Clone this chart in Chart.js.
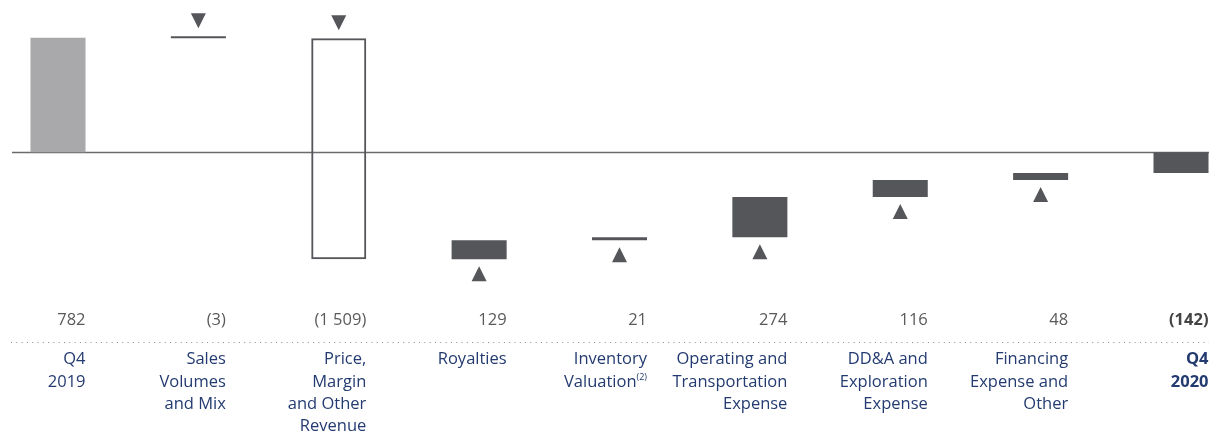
<!DOCTYPE html>
<html>
<head>
<meta charset="utf-8">
<script src="https://cdn.jsdelivr.net/npm/chart.js@4.4.1/dist/chart.umd.min.js"></script>
<style>
  html, body { margin: 0; padding: 0; background: #fff; }
  #wrap { width: 1209px; height: 434px; position: relative; }
</style>
</head>
<body>
<div id="wrap"><canvas id="bridge-chart"></canvas></div>
<script>
// Bridge data (Q4 2019 -> Q4 2020)
var categories = [
  ['Q4', '2019'],
  ['Sales', 'Volumes', 'and Mix'],
  ['Price,', 'Margin', 'and Other', 'Revenue'],
  ['Royalties'],
  ['Inventory', 'Valuation^(2)'],
  ['Operating and', 'Transportation', 'Expense'],
  ['DD&A and', 'Exploration', 'Expense'],
  ['Financing', 'Expense and', 'Other'],
  ['Q4', '2020']
];
var changes = [782, -3, -1509, 129, 21, 274, 116, 48, -142];
var isTotal = [true, false, false, false, false, false, false, false, true];
var valueLabels = ['782', '(3)', '(1 509)', '129', '21', '274', '116', '48', '(142)'];

// floating bars from running total
var bars = [];
var running = 0;
for (var i = 0; i < changes.length; i++) {
  if (isTotal[i]) {
    bars.push([0, changes[i]]);
    running = changes[i];
  } else {
    bars.push([running, running + changes[i]]);
    running += changes[i];
  }
}

var DARK = '#55565a';
var FONT = '"Open Sans", "Noto Sans", sans-serif';

function barFill(ctx) {
  var i = ctx.dataIndex;
  if (i === 0) return '#a9a8aa';
  if (i === 2) return 'rgba(0,0,0,0)';
  return DARK;
}

// baseline behind the bars
var baseline = {
  id: 'baseline',
  beforeDatasetsDraw: function(chart) {
    var c = chart.ctx;
    var y = Math.round(chart.scales.y.getPixelForValue(0)) + 0.5;
    c.save();
    c.strokeStyle = '#6b6b6d';
    c.lineWidth = 1.3;
    c.beginPath();
    c.moveTo(12, y);
    c.lineTo(chart.width, y);
    c.stroke();
    c.restore();
  }
};

// arrows + value row + category labels
var annotations = {
  id: 'annotations',
  afterDatasetsDraw: function(chart) {
    var c = chart.ctx;
    var meta = chart.getDatasetMeta(0);
    c.save();
    c.fillStyle = DARK;
    meta.data.forEach(function(el, i) {
      if (isTotal[i]) return;
      var top = Math.min(el.y, el.base);
      var bottom = Math.max(el.y, el.base);
      c.beginPath();
      if (changes[i] < 0) {
        c.moveTo(el.x - 7.5, top - 23);
        c.lineTo(el.x + 7.5, top - 23);
        c.lineTo(el.x, top - 8);
      } else {
        c.moveTo(el.x - 7.5, bottom + 22);
        c.lineTo(el.x + 7.5, bottom + 22);
        c.lineTo(el.x, bottom + 7);
      }
      c.closePath();
      c.fill();
    });

    // dotted separator
    c.strokeStyle = '#8a8a8a';
    c.lineWidth = 1;
    c.setLineDash([1, 4.3]);
    c.beginPath();
    c.moveTo(11, 342.5);
    c.lineTo(chart.width, 342.5);
    c.stroke();
    c.setLineDash([]);

    c.textAlign = 'right';
    c.textBaseline = 'middle';
    meta.data.forEach(function(el, i) {
      var right = el.x + el.width / 2;
      var last = i === meta.data.length - 1;
      c.font = (last ? 'bold ' : '') + '16.5px ' + FONT;
      c.fillStyle = last ? '#444446' : '#5a5a5c';
      c.fillText(valueLabels[i], right, 320);

      c.fillStyle = '#233b70';
      categories[i].forEach(function(line, k) {
        var y = 359.5 + k * 22.3;
        var parts = line.split('^');
        var x = right;
        if (parts[1]) {
          c.font = '9px ' + FONT;
          var w = c.measureText(parts[1]).width;
          c.fillText(parts[1], x, y - 4);
          x -= w;
        }
        c.font = (last ? 'bold ' : '') + '16.5px ' + FONT;
        c.fillText(parts[0], x, y);
      });
    });
    c.restore();
  }
};

var ctx = document.getElementById('bridge-chart').getContext('2d');
var myChart = new Chart(ctx, {
  type: 'bar',
  data: {
    labels: categories,
    datasets: [{
      data: bars,
      backgroundColor: barFill,
      borderColor: DARK,
      borderWidth: function(ctx) { return ctx.dataIndex === 2 ? 2 : 0; },
      borderSkipped: false,
      minBarLength: 2,
      categoryPercentage: 1,
      barPercentage: 0.392,
      clip: false
    }]
  },
  options: {
    responsive: true,
    maintainAspectRatio: false,
    animation: false,
    layout: {
      padding: { left: 58, right: 28, top: 0, bottom: 134 }
    },
    scales: {
      x: {
        display: false,
        offset: false
      },
      y: {
        display: false,
        min: -1009,
        max: 1040
      }
    },
    plugins: {
      legend: { display: false },
      tooltip: { enabled: false }
    }
  },
  plugins: [baseline, annotations]
});
</script>
</body>
</html>
